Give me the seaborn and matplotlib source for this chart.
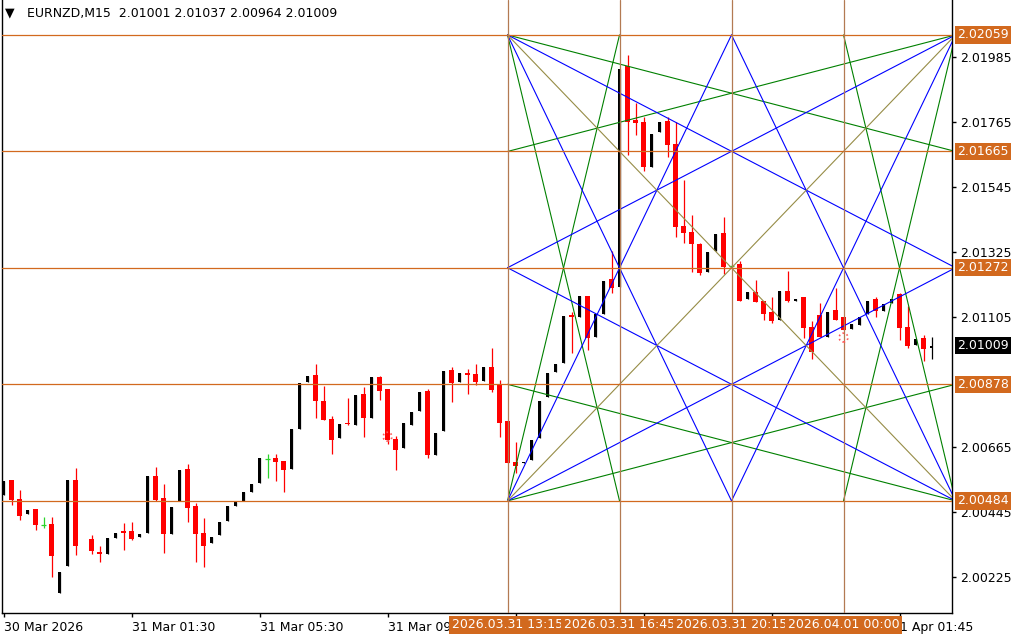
import numpy as np
import pandas as pd
import matplotlib
matplotlib.use('Agg')
import matplotlib.pyplot as plt
import matplotlib.transforms as mtransforms
import seaborn as sns

# EURNZD M15 candles, one per bar (bar 10 not readable in the picture)
opens = [2.00504, 2.00555, 2.00491, 2.00438, 2.00457, 2.00402, 2.00406, 2.00174, 2.00265, 2.00555,
         np.nan, 2.00356, 2.00312, 2.00306, 2.00359, 2.00383, 2.00383, 2.00363, 2.00377, 2.00569,
         2.00494, 2.00373, 2.00484, 2.00592, 2.00467, 2.00376, 2.00340, 2.00370, 2.00417, 2.00468,
         2.00484, 2.00514, 2.00545, 2.00625, 2.00630, 2.00619, 2.00592, 2.00727, 2.00886, 2.00910,
         2.00822, 2.00761, 2.00697, 2.00748, 2.00741, 2.00846, 2.00765, 2.00903, 2.00863, 2.00694,
         2.00663, 2.00741, 2.00788, 2.00856, 2.00640, 2.00721, 2.00927, 2.00886, 2.00917, 2.00913,
         2.00890, 2.00937, 2.00876, 2.00754, 2.00617, 2.00611, 2.00623, 2.00697, 2.00836, 2.00921,
         2.00951, 2.01113, 2.01104, 2.01177, 2.01039, 2.01116, 2.01233, 2.01208, 2.01954, 2.01772,
         2.01766, 2.01614, 2.01732, 2.01768, 2.01691, 2.01414, 2.01394, 2.01353, 2.01259, 2.01330,
         2.01391, 2.01278, 2.01285, 2.01167, 2.01191, 2.01160, 2.01124, 2.01096, 2.01194, 2.01161,
         2.01174, 2.01071, 2.01113, 2.01039, 2.01130, 2.01106, 2.01065, 2.01079, 2.01116, 2.01167,
         2.01127, 2.01152, 2.01183, 2.01071, 2.01011, 2.01034, 2.01001]
highs = [2.00552, 2.00555, 2.00521, 2.00454, 2.00457, 2.00430, 2.00430, 2.00244, 2.00555, 2.00596,
         np.nan, 2.00368, 2.00332, 2.00359, 2.00376, 2.00410, 2.00413, 2.00372, 2.00569, 2.00599,
         2.00541, 2.00464, 2.00589, 2.00609, 2.00477, 2.00427, 2.00362, 2.00413, 2.00467, 2.00481,
         2.00514, 2.00541, 2.00629, 2.00641, 2.00641, 2.00619, 2.00727, 2.00883, 2.00907, 2.00947,
         2.00873, 2.00771, 2.00744, 2.00832, 2.00842, 2.00869, 2.00903, 2.00907, 2.00863, 2.00704,
         2.00748, 2.00785, 2.00852, 2.00863, 2.00714, 2.00923, 2.00937, 2.00917, 2.00930, 2.00947,
         2.00937, 2.01001, 2.00893, 2.00754, 2.00683, 2.00616, 2.00690, 2.00822, 2.00917, 2.00947,
         2.01109, 2.01124, 2.01175, 2.01177, 2.01116, 2.01228, 2.01330, 2.01943, 2.01992, 2.01828,
         2.01783, 2.01724, 2.01764, 2.01783, 2.01766, 2.01569, 2.01451, 2.01357, 2.01326, 2.01386,
         2.01445, 2.01285, 2.01296, 2.01191, 2.01231, 2.01160, 2.01172, 2.01194, 2.01261, 2.01166,
         2.01174, 2.01092, 2.01154, 2.01124, 2.01205, 2.01106, 2.01082, 2.01106, 2.01160, 2.01172,
         2.01150, 2.01167, 2.01188, 2.01144, 2.01032, 2.01045, 2.01037]
lows = [2.00504, 2.00470, 2.00420, 2.00438, 2.00386, 2.00392, 2.00225, 2.00174, 2.00265, 2.00302,
        np.nan, 2.00306, 2.00276, 2.00306, 2.00359, 2.00319, 2.00352, 2.00363, 2.00377, 2.00482,
        2.00309, 2.00373, 2.00484, 2.00411, 2.00279, 2.00262, 2.00340, 2.00370, 2.00417, 2.00468,
        2.00484, 2.00514, 2.00545, 2.00563, 2.00552, 2.00515, 2.00592, 2.00727, 2.00886, 2.00765,
        2.00758, 2.00643, 2.00697, 2.00741, 2.00741, 2.00700, 2.00765, 2.00825, 2.00677, 2.00589,
        2.00663, 2.00741, 2.00788, 2.00630, 2.00640, 2.00721, 2.00819, 2.00886, 2.00846, 2.00876,
        2.00890, 2.00852, 2.00700, 2.00611, 2.00578, 2.00611, 2.00623, 2.00697, 2.00836, 2.00921,
        2.00951, 2.00983, 2.01104, 2.00994, 2.01039, 2.01116, 2.01188, 2.01208, 2.01653, 2.01721,
        2.01599, 2.01614, 2.01732, 2.01648, 2.01375, 2.01357, 2.01259, 2.01248, 2.01259, 2.01330,
        2.01250, 2.01275, 2.01161, 2.01167, 2.01156, 2.01096, 2.01085, 2.01096, 2.01156, 2.01161,
        2.01035, 2.00963, 2.01039, 2.01039, 2.01096, 2.01060, 2.01065, 2.01079, 2.01116, 2.01107,
        2.01127, 2.01152, 2.01028, 2.01000, 2.01011, 2.00958, 2.00964]
closes = [2.00552, 2.00487, 2.00434, 2.00454, 2.00401, 2.00402, 2.00299, 2.00244, 2.00555, 2.00333,
          np.nan, 2.00316, 2.00306, 2.00359, 2.00376, 2.00377, 2.00356, 2.00372, 2.00569, 2.00487,
          2.00373, 2.00464, 2.00589, 2.00461, 2.00373, 2.00333, 2.00362, 2.00413, 2.00467, 2.00481,
          2.00514, 2.00541, 2.00629, 2.00625, 2.00616, 2.00590, 2.00727, 2.00883, 2.00907, 2.00822,
          2.00758, 2.00690, 2.00744, 2.00743, 2.00842, 2.00765, 2.00903, 2.00856, 2.00690, 2.00656,
          2.00748, 2.00785, 2.00852, 2.00640, 2.00714, 2.00923, 2.00883, 2.00917, 2.00911, 2.00886,
          2.00937, 2.00859, 2.00748, 2.00611, 2.00603, 2.00616, 2.00690, 2.00822, 2.00917, 2.00947,
          2.01109, 2.01105, 2.01175, 2.01036, 2.01116, 2.01228, 2.01203, 2.01943, 2.01766, 2.01761,
          2.01611, 2.01724, 2.01764, 2.01687, 2.01411, 2.01391, 2.01352, 2.01254, 2.01326, 2.01386,
          2.01276, 2.01278, 2.01161, 2.01191, 2.01156, 2.01117, 2.01092, 2.01194, 2.01161, 2.01166,
          2.01070, 2.00987, 2.01039, 2.01124, 2.01096, 2.01060, 2.01082, 2.01106, 2.01160, 2.01127,
          2.01150, 2.01167, 2.01070, 2.01008, 2.01032, 2.00998, 2.01009]

# Gann square: price levels (top to bottom) and bar index of its columns
levels = [2.02059, 2.01665, 2.01272, 2.00878, 2.00484]
grid_cols = [63, 77, 91, 105, 119]
col_labels = ['2026.03.31 13:15', '2026.03.31 16:45', '2026.03.31 20:15', '2026.04.01 00:00']

# labels under the orange time boxes are hidden, so only the visible ones are written
time_ticks = [0, 16, 32, 48, 64, 80, 96, 112]
time_labels = ['30 Mar 2026', '31 Mar 01:30', '31 Mar 05:30', '31 Mar 09:30',
               '', '', '', '1 Apr 01:45']
price_ticks = [2.01985, 2.01765, 2.01545, 2.01325, 2.01105, 2.00665, 2.00445, 2.00225]

marker_bars = [48, 105]
marker_prices = [2.00701, 2.01036]

title = 'EURNZD,M15  2.01001 2.01037 2.00964 2.01009'
last_price = 2.01009

# fan lines, as (col, row) -> (col, row) in the square
green_pairs = [((0, 0), (1, 4)), ((0, 0), (4, 1)), ((0, 4), (1, 0)), ((0, 4), (4, 3)),
               ((4, 0), (3, 4)), ((4, 0), (0, 1)), ((4, 4), (3, 0)), ((4, 4), (0, 3))]
blue_pairs = [((0, 0), (2, 4)), ((0, 0), (4, 2)), ((0, 4), (2, 0)), ((0, 4), (4, 2)),
              ((4, 0), (2, 4)), ((4, 0), (0, 2)), ((4, 4), (2, 0)), ((4, 4), (0, 2))]
olive_pairs = [((0, 0), (4, 4)), ((0, 4), (4, 0))]

ORANGE = '#D2691E'
FS = 9

sns.set_theme(style='white')
plt.rcParams['font.family'] = ['DejaVu Sans']

fig = plt.figure(figsize=(10.24, 6.4), dpi=100)
ax = fig.add_axes([2 / 1024, 27 / 640, 950 / 1024, 613 / 640])
ax.set_facecolor('white')

df = pd.DataFrame({'open': opens, 'high': highs, 'low': lows, 'close': closes})
df['bar'] = np.arange(len(df))
df = df.dropna()

px = (2.02177 - 2.00105) / 613  # price per pixel
bull = df[df.close > df.open]
bear = df[df.close < df.open]
doji = df[df.close == df.open]

ax.vlines(bull.bar, bull.low, bull.high, color='black', lw=0.9, zorder=2)
ax.bar(bull.bar, np.maximum(bull.close - bull.open, px), bottom=bull.open, width=0.4,
       color='black', linewidth=0, zorder=2)
ax.vlines(bear.bar, bear.low, bear.high, color='#FF0000', lw=0.9, zorder=2)
ax.bar(bear.bar, np.maximum(bear.open - bear.close, px), bottom=bear.close, width=0.6,
       color='#FF0000', linewidth=0, zorder=2)
ax.vlines(doji.bar, doji.low, doji.high, color='#2AD42A', lw=0.9, zorder=2)
ax.hlines(doji.close, doji.bar - 0.3, doji.bar + 0.3, color='#2AD42A', lw=0.9, zorder=2)

# Gann fan lines
rows = []
for kind, pairs in [('green', green_pairs), ('blue', blue_pairs), ('olive', olive_pairs)]:
    for n, (a, b) in enumerate(pairs):
        for c, r in (a, b):
            rows.append({'line': f'{kind}{n}', 'kind': kind,
                         'bar': grid_cols[c], 'price': levels[r]})
lines = pd.DataFrame(rows)
sns.lineplot(data=lines, x='bar', y='price', hue='kind', units='line', estimator=None,
             sort=False, legend=False, lw=0.8, ax=ax, zorder=3,
             palette={'green': '#008000', 'blue': '#0000FF', 'olive': '#968C46'})

for lv in levels:
    ax.axhline(lv, color=ORANGE, lw=0.9, zorder=3)
for c in grid_cols[:4]:
    ax.axvline(c, color='#B37A52', lw=0.9, zorder=3)

ax.scatter(marker_bars, marker_prices, s=40, facecolors='none', edgecolors='#FF5A5A',
           linewidths=1.2, linestyle=':', zorder=4)

ax.set_xlim(-0.19, 118.56)
ax.set_ylim(2.00105, 2.02177)

for s in ['left', 'bottom', 'right']:
    ax.spines[s].set_color('black')
    ax.spines[s].set_linewidth(1)
ax.spines['top'].set_visible(False)

ax.yaxis.tick_right()
ax.set_yticks(price_ticks)
ax.set_yticklabels([f'{p:.5f}' for p in price_ticks], fontsize=FS)
ax.set_xticks(time_ticks)
ax.set_xticklabels(time_labels, fontsize=FS, ha='left')
ax.tick_params(axis='both', direction='out', length=3, width=1, color='black',
               labelcolor='black', pad=2.5)
ax.tick_params(axis='y', left=False, right=True)
ax.tick_params(axis='x', bottom=True)
ax.set_xlabel('')
ax.set_ylabel('')

# price boxes on the right axis
ytrans = mtransforms.blended_transform_factory(ax.transAxes, ax.transData)
for lv in levels:
    ax.text(1.0055, lv, f'{lv:.5f}', transform=ytrans, ha='left', va='center',
            fontsize=FS, color='white', clip_on=False, zorder=6,
            bbox=dict(boxstyle='square,pad=0.18', fc=ORANGE, ec='none'))
ax.text(1.0055, last_price, f'{last_price:.5f}', transform=ytrans, ha='left', va='center',
        fontsize=FS, color='white', clip_on=False, zorder=6,
        bbox=dict(boxstyle='square,pad=0.18', fc='black', ec='none'))

# time boxes under the vertical lines
xtrans = mtransforms.blended_transform_factory(ax.transData, ax.transAxes)
for c, lab in zip(grid_cols[:4], col_labels):
    ax.text(c, -0.0195, lab, transform=xtrans, ha='center', va='center',
            fontsize=FS, color='white', clip_on=False, zorder=6,
            bbox=dict(boxstyle='square,pad=0.22', fc=ORANGE, ec='none'))

ax.text(0.003, 1 - 13 / 613, '\u25bc', transform=ax.transAxes, ha='left', va='center',
        fontsize=9, color='black')
ax.text(0.026, 1 - 13 / 613, title, transform=ax.transAxes, ha='left', va='center',
        fontsize=FS, color='black')

fig.savefig('out.png', dpi=100, facecolor='white')
